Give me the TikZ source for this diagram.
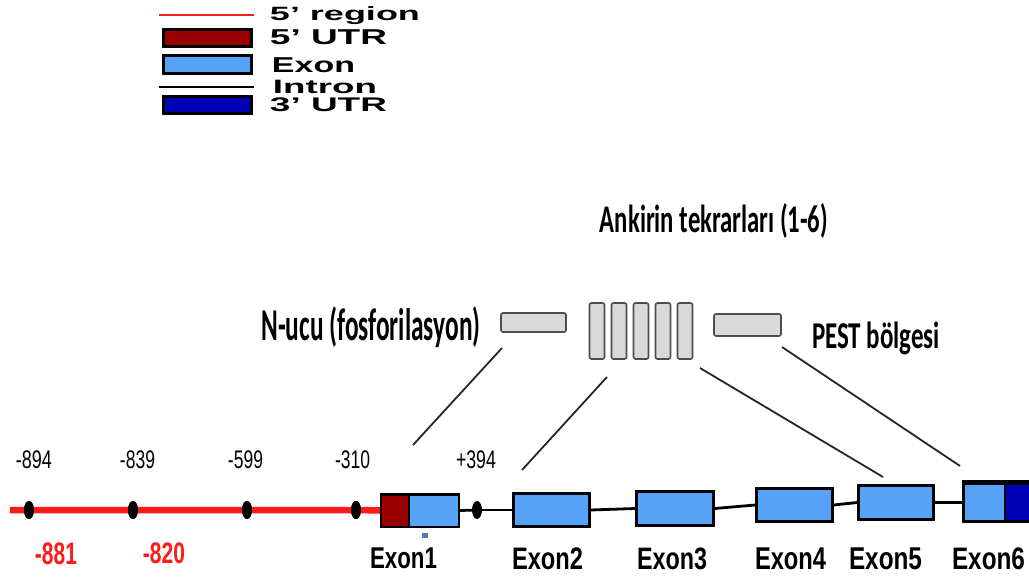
\documentclass[tikz,border=0pt]{standalone}
\usepackage{fontspec}
\setmainfont{Liberation Sans}
\newfontfamily\carl{Carlito}
\usepackage{graphicx}
\usetikzlibrary{shapes.geometric}
\definecolor{redline}{HTML}{FF1A1A}
\definecolor{utrfive}{HTML}{990000}
\definecolor{exonblue}{HTML}{55A2F7}
\definecolor{utrthree}{HTML}{0000B4}
\definecolor{protfill}{HTML}{D9D9D9}
\definecolor{protdraw}{HTML}{4D4D4D}
\definecolor{sqblue}{HTML}{4A7EBB}
\newcommand{\fitt}[3]{\resizebox*{#1}{#2}{#3}}
\begin{document}
\begin{tikzpicture}[x=1pt,y=-1pt,
  legbox/.style={draw=black, line width=3pt, inner sep=0, minimum width=88pt},
  exbox/.style={draw=black, line width=2.5pt, inner sep=0},
  dotnode/.style={ellipse, fill=black, inner sep=0, minimum width=10pt, minimum height=18pt},
  protbox/.style={draw=protdraw, line width=1.6pt, fill=protfill, rounded corners=2pt, inner sep=0},
  intron/.style={draw=black, line width=2.8pt},
  linker/.style={draw=black!85, line width=1.8pt},
  txt/.style={inner sep=0, outer sep=0}]
\useasboundingbox (0,0) rectangle (1029,580);
\fill[white] (0,0) rectangle (1029,580);

% ---------- legend ----------
\coordinate (lr1) at (159,15);
\coordinate (lr2) at (254,15);
\draw[redline, line width=2.5pt] (lr1) -- (lr2);
\node[legbox, fill=utrfive, minimum height=17pt] (lutr5) at (207.5,38) {};
\node[legbox, fill=exonblue, minimum height=18pt] (lexon) at (207.5,64.5) {};
\coordinate (li1) at (159,87);
\coordinate (li2) at (254,87);
\draw[line width=2.2pt] (li1) -- (li2);
\node[legbox, fill=utrthree, minimum height=17pt] (lutr3) at (207.5,105) {};

\node[txt] (tl1) at (345,16) {\fitt{150pt}{18pt}{\bfseries 5' region}};
\node[txt] (tl2) at (328.5,37.5) {\fitt{117pt}{15pt}{\bfseries 5' UTR}};
\node[txt] (tl3) at (313.5,65.5) {\fitt{83pt}{15pt}{\bfseries Exon}};
\node[txt] (tl4) at (325,87) {\fitt{104pt}{13.5pt}{\bfseries Intron}};
\node[txt] (tl5) at (328.5,105) {\fitt{117pt}{14pt}{\bfseries 3' UTR}};

% ---------- gene ----------
\node[exbox, fill=utrfive, minimum width=27.75pt, minimum height=32.5pt] (e1u) at (395.1,510.5) {};
\node[exbox, fill=exonblue, minimum width=49.75pt, minimum height=32.5pt] (e1b) at (433.9,510.5) {};
\node[exbox, fill=exonblue, minimum width=76pt, minimum height=33pt] (e2) at (551.5,510) {};
\node[exbox, fill=exonblue, minimum width=77pt, minimum height=34pt] (e3) at (675,508.5) {};
\node[exbox, fill=exonblue, minimum width=76pt, minimum height=33pt] (e4) at (794.5,505) {};
\node[exbox, fill=exonblue, minimum width=75pt, minimum height=34pt] (e5) at (896,502.5) {};
\node[exbox, fill=exonblue, minimum width=41.5pt, minimum height=38pt] (e6) at (984.25,502.5) {};
\node[exbox, fill=utrthree, minimum width=40pt, minimum height=38pt] (e6u) at (1025,502.5) {};
\draw[line width=5pt] (e6.north west) -- (e6u.north east);

\coordinate (rs) at (10,510);
\node[dotnode] (d1) at (29,510) {};
\node[dotnode] (d2) at (133,510) {};
\node[dotnode] (d3) at (247,510) {};
\node[dotnode] (d4) at (356,510) {};
\node[dotnode] (di) at (477,510) {};
\draw[redline, line width=6.5pt] (rs) -- (d1) -- (d2) -- (d3) -- (d4) -- (e1u.west);
\node[dotnode] at (d1) {};
\node[dotnode] at (d2) {};
\node[dotnode] at (d3) {};
\node[dotnode] at (d4) {};

\draw[intron] (e1b.east) -- (di);
\draw[intron] (di) -- (e2.west);
\draw[intron] (e2.east) -- (e3.west);
\draw[intron] (e3.east) -- (e4.west);
\draw[intron] (e4.east) -- (e5.west);
\draw[intron] (e5.east) -- (e6.west);

\node[fill=sqblue, minimum width=6pt, minimum height=5pt, inner sep=0] (sq) at (425,535.5) {};

% position labels
\node[txt] (p1) at (34,460) {\fitt{36pt}{18pt}{-894}};
\node[txt] (p2) at (137.5,460) {\fitt{35pt}{18pt}{-839}};
\node[txt] (p3) at (245.5,460) {\fitt{35pt}{18pt}{-599}};
\node[txt] (p4) at (352.5,460) {\fitt{35pt}{18pt}{-310}};
\node[txt] (p5) at (476,460) {\fitt{40pt}{18pt}{+394}};
\node[txt, text=redline] (r1) at (56,554) {\fitt{42pt}{22pt}{\bfseries -881}};
\node[txt, text=redline] (r2) at (164,553.5) {\fitt{42pt}{21pt}{\bfseries -820}};

% exon labels
\node[txt] (x1) at (403.5,558) {\fitt{67pt}{21pt}{\bfseries Exon1}};
\node[txt] (x2) at (547.5,559) {\fitt{71pt}{22pt}{\bfseries Exon2}};
\node[txt] (x3) at (672,559) {\fitt{70pt}{22pt}{\bfseries Exon3}};
\node[txt] (x4) at (790.5,559) {\fitt{71pt}{22pt}{\bfseries Exon4}};
\node[txt] (x5) at (885.5,559) {\fitt{73pt}{22pt}{\bfseries Exon5}};
\node[txt] (x6) at (988.5,559) {\fitt{73pt}{22pt}{\bfseries Exon6}};

% ---------- protein ----------
\node[protbox, minimum width=65pt, minimum height=19pt] (nb) at (533.5,322.5) {};
\node[protbox, minimum width=15pt, minimum height=56pt] (a1) at (597,331) {};
\node[protbox, minimum width=15pt, minimum height=56pt] (a2) at (619,331) {};
\node[protbox, minimum width=15pt, minimum height=56pt] (a3) at (641,331) {};
\node[protbox, minimum width=15pt, minimum height=56pt] (a4) at (663,331) {};
\node[protbox, minimum width=15pt, minimum height=56pt] (a5) at (685,331) {};
\node[protbox, minimum width=67pt, minimum height=22pt] (pb) at (747.5,325) {};

\node[txt] (tank) at (714,220.5) {\fitt{228pt}{35pt}{\carl\bfseries Ankirin tekrarları (1-6)}};
\node[txt] (tn) at (371,327.5) {\fitt{219pt}{41pt}{\carl\bfseries N-ucu (fosforilasyon)}};
\node[txt] (tp) at (876,338.5) {\fitt{128pt}{33pt}{\carl\bfseries PEST bölgesi}};

% ---------- linking lines ----------
\coordinate (c1a) at (502,348);
\coordinate (c1b) at (413,445);
\coordinate (c2a) at (607,377);
\coordinate (c2b) at (522,470);
\coordinate (c3a) at (700,368);
\coordinate (c3b) at (883,477);
\coordinate (c4a) at (782,347);
\coordinate (c4b) at (960,466);
\draw[linker] (c1a) -- (c1b);
\draw[linker] (c2a) -- (c2b);
\draw[linker] (c3a) -- (c3b);
\draw[linker] (c4a) -- (c4b);
\end{tikzpicture}
\end{document}
